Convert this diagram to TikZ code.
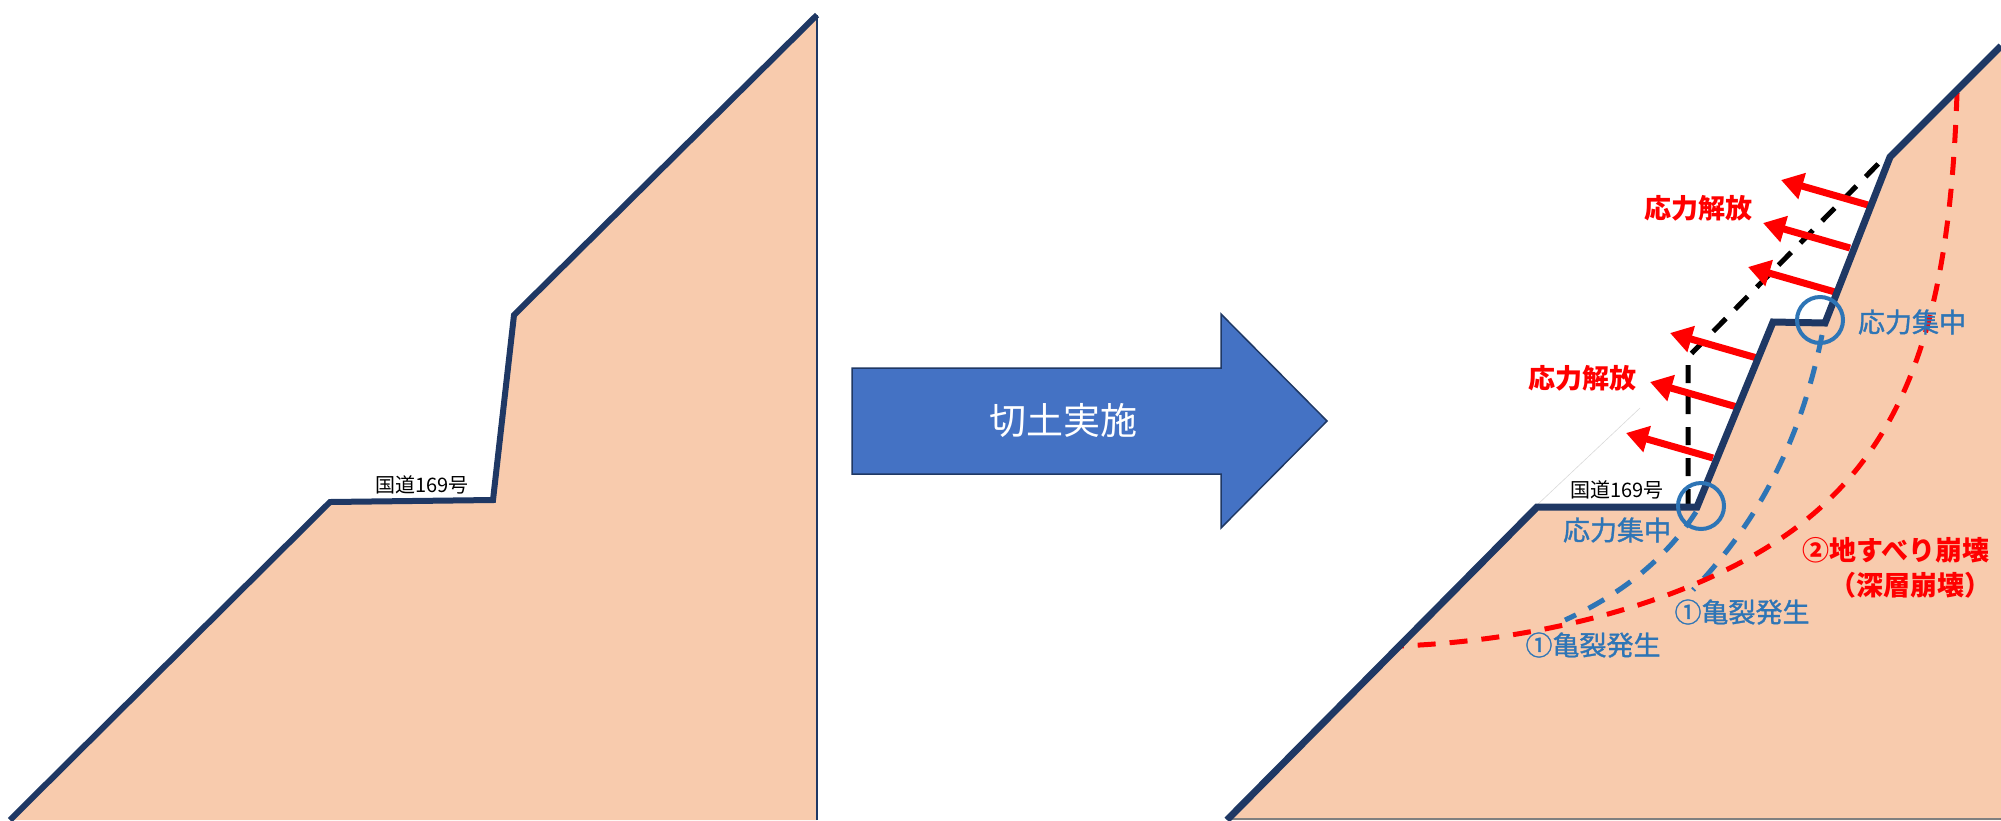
\documentclass[tikz,border=0pt]{standalone}
\usepackage{fontspec}
\setmainfont{Noto Sans CJK JP}
\newfontfamily\medfont{Noto Sans CJK JP}[FakeBold=1.2]
\usetikzlibrary{arrows.meta}
\definecolor{soil}{HTML}{F8CBAD}
\definecolor{navy}{HTML}{1F3864}
\definecolor{steel}{HTML}{2E75B6}
\definecolor{cutblue}{HTML}{4472C4}

\begin{document}
\begin{tikzpicture}[x=1pt, y=-1pt, every node/.style={inner sep=0pt},
    ground/.style={navy, line width=7pt},
    crack/.style={steel, line width=5pt, dash pattern=on 18pt off 14pt},
    slip/.style={red, line width=5pt, dash pattern=on 18pt off 14pt},
    relief/.style={red, line width=7pt, -{Triangle[length=22pt,width=26pt]}},
    focus/.style={steel, line width=4pt},
    redlbl/.style={text=red, font=\bfseries\fontsize{27}{30}\selectfont},
    bluelbl/.style={text=steel, font=\medfont\fontsize{27}{30}\selectfont},
    roadlbl/.style={font=\fontsize{20}{24}\selectfont}]
  \useasboundingbox (0,0) rectangle (2001,820);

  % slope before the cut
  \fill[soil] (10,820) -- (330,502) -- (493,500) -- (514,315) -- (817,15) -- (817,820) -- cycle;
  \draw[navy, line width=1.5pt] (817,15) -- (817,820);
  \draw[ground, line width=6pt] (10,820) -- (330,502) -- (493,500) -- (514,315) -- (817,15);
  \node[roadlbl] (road1) at (422,485) {国道169号};

  % big arrow in the middle
  \draw[navy, line width=1.5pt, fill=cutblue] (852,368) -- (1221,368) -- (1221,314) -- (1327,421)
    -- (1221,528) -- (1221,474) -- (852,474) -- cycle;
  \node[text=white, font=\fontsize{37}{42}\selectfont] (cut) at (1063,420) {切土実施};

  % slope after the cut
  \fill[soil] (1227,820) -- (1537,507) -- (1697,507) -- (1773,322) -- (1825,323) -- (1890,157)
    -- (2001,46) -- (2001,820) -- cycle;
  \draw[gray, line width=1.2pt] (1227,819) -- (2001,819);
  \draw[black!15, line width=0.6pt] (1537,505) -- (1640,408);
  % old surface
  \draw[black, line width=5pt, dash pattern=on 18pt off 13pt] (1688,507) -- (1688,357) -- (1885,157);
  % cracks and slip surface
  \draw[crack] (1696,512) .. controls (1665,560) and (1620,595) .. (1565,620);
  \draw[crack] (1822,335) .. controls (1805,420) and (1770,510) .. (1693,590);
  \draw[slip] (1957,93) .. controls (1950,300) and (1915,440) .. (1793,530)
    .. controls (1700,598) and (1550,640) .. (1400,646);
  % released stress
  \foreach \p in {(1868,205),(1850,248),(1835,292),(1757,358),(1737,407),(1713,458)}
    \draw[relief] \p -- ++(-87,-25);
  \draw[ground] (1227,820) -- (1537,507) -- (1697,507) -- (1773,322) -- (1825,323) -- (1890,157)
    -- (2001,46);
  \draw[focus] (1820,320) circle[radius=23pt];
  \draw[focus] (1701,506) circle[radius=23pt];

  \node[roadlbl] (road2) at (1617,490) {国道169号};
  \node[redlbl] (free1) at (1698,208) {応力解放};
  \node[redlbl] (free2) at (1582,378) {応力解放};
  \node[bluelbl] (conc1) at (1912,322) {応力集中};
  \node[bluelbl] (conc2) at (1617,530) {応力集中};
  \node[redlbl] (slide) at (1896,550) {②地すべり崩壊};
  \node[redlbl] (deep) at (1910,585) {（深層崩壊）};
  \node[bluelbl] (crk1) at (1742,612) {①亀裂発生};
  \node[bluelbl] (crk2) at (1593,645) {①亀裂発生};
\end{tikzpicture}
\end{document}
